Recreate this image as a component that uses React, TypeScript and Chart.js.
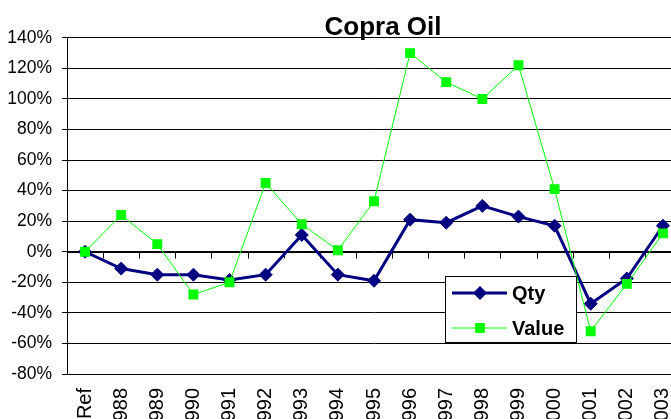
import React, { useEffect, useRef } from "react";
import { Chart, registerables } from "chart.js";

Chart.register(...registerables);

const categories = ["Ref", "1988", "1989", "1990", "1991", "1992", "1993", "1994", "1995", "1996", "1997", "1998", "1999", "2000", "2001", "2002", "2003"];
const qtyValues = [0, -11, -15, -15, -18.5, -15, 11, -15, -19, 21, 19, 30, 23, 17, -34, -17.5, 17];
const valueValues = [0, 24, 5, -28, -20, 45, 18, 1, 33, 130, 111, 100, 122, 41, -52, -21, 12];
const yTickMin = -80;
const yTickMax = 140;
const yTickStep = 20;

const FONT = "'Liberation Sans', Arial, sans-serif";
const NAVY = "#000080";
const LIME = "#00FF00";

const W = 766;
const H = 440;

const zeroTicksPlugin = {
  id: "zeroTicks",
  beforeDatasetsDraw(chart: any) {
    const { ctx, scales } = chart;
    const x = scales.x;
    const y = scales.y;
    const y0 = Math.round(y.getPixelForValue(0)) + 0.5;
    ctx.save();
    ctx.strokeStyle = "#000";
    ctx.lineWidth = 1;
    ctx.beginPath();
    ctx.moveTo(chart.chartArea.left, y0);
    ctx.lineTo(chart.chartArea.right, y0);
    const n = x.ticks.length;
    for (let i = 0; i < n - 1; i++) {
      const bx = Math.round((x.getPixelForTick(i) + x.getPixelForTick(i + 1)) / 2) + 0.5;
      ctx.moveTo(bx, y0);
      ctx.lineTo(bx, y0 + 6);
    }
    ctx.stroke();
    ctx.restore();
  },
};

function drawDiamond(ctx: CanvasRenderingContext2D, cx: number, cy: number, r: number) {
  ctx.beginPath();
  ctx.moveTo(cx, cy - r);
  ctx.lineTo(cx + r, cy);
  ctx.lineTo(cx, cy + r);
  ctx.lineTo(cx - r, cy);
  ctx.closePath();
  ctx.fill();
}

const legendPlugin = {
  id: "customLegend",
  afterDraw(chart: any) {
    const { ctx } = chart;
    const bx = 445.5, by = 276.5, bw = 131, bh = 66;
    ctx.save();
    ctx.fillStyle = "#fff";
    ctx.fillRect(bx, by, bw, bh);
    ctx.strokeStyle = "#000";
    ctx.lineWidth = 1;
    ctx.strokeRect(bx, by, bw, bh);

    const ds = chart.data.datasets;
    const rows = [
      { d: ds[1], y: 293 },
      { d: ds[0], y: 328 },
    ];
    rows.forEach(({ d, y }) => {
      ctx.strokeStyle = d.borderColor;
      ctx.lineWidth = d.borderWidth;
      ctx.beginPath();
      ctx.moveTo(452, y);
      ctx.lineTo(507, y);
      ctx.stroke();
      ctx.fillStyle = d.pointBackgroundColor;
      if (d.pointStyle === "rectRot") {
        drawDiamond(ctx, 480, y, d.pointRadius + 0.5);
      } else {
        const s = d.pointRadius * Math.SQRT1_2;
        ctx.fillRect(480 - s, y - s, 2 * s, 2 * s);
      }
      ctx.fillStyle = "#000";
      ctx.font = `bold 20px ${FONT}`;
      ctx.textBaseline = "middle";
      ctx.textAlign = "left";
      ctx.fillText(d.label, 512, y + 1);
    });
    ctx.restore();
  },
};

export default function App() {
  const ref = useRef<HTMLCanvasElement>(null);
  useEffect(() => {
    if (!ref.current) return;
    const chart = new Chart(ref.current, {
      type: "line",
      data: {
        labels: categories,
        datasets: [
          {
            label: "Value",
            data: valueValues,
            borderColor: LIME,
            backgroundColor: LIME,
            borderWidth: 1,
            pointStyle: "rect",
            pointRadius: 7,
            pointBackgroundColor: LIME,
            pointBorderColor: LIME,
            pointBorderWidth: 0,
            tension: 0,
            order: 1,
          },
          {
            label: "Qty",
            data: qtyValues,
            borderColor: NAVY,
            backgroundColor: NAVY,
            borderWidth: 3,
            pointStyle: "rectRot",
            pointRadius: 6.5,
            pointBackgroundColor: NAVY,
            pointBorderColor: NAVY,
            pointBorderWidth: 1,
            tension: 0,
            order: 2,
          },
        ],
      },
      options: {
        responsive: false,
        animation: false,
        devicePixelRatio: 1,
        layout: { padding: 0 },
        plugins: {
          legend: { display: false },
          tooltip: { enabled: false },
          title: {
            display: true,
            text: "Copra Oil",
            color: "#000",
            font: { family: FONT, size: 26, weight: "bold", lineHeight: 0.8 },
            padding: { top: 17, bottom: 0 },
          },
        },
        scales: {
          x: {
            type: "category",
            offset: true,
            grid: { display: false, drawTicks: false },
            border: { display: true, color: "#000", width: 1 },
            ticks: {
              color: "#000",
              font: { family: FONT, size: 20 },
              minRotation: 90,
              maxRotation: 90,
              autoSkip: false,
              padding: 14,
            },
            afterFit: (s: any) => {
              s.height = H - 374;
            },
          },
          y: {
            type: "linear",
            position: "left",
            min: yTickMin,
            max: yTickMax,
            ticks: {
              stepSize: yTickStep,
              color: "#000",
              font: { family: FONT, size: 17.5 },
              padding: 10,
              callback: (v: any) => `${v}%`,
            },
            grid: { color: "#000", lineWidth: 1, drawTicks: true, tickLength: 5, tickColor: "#000" },
            border: { display: true, color: "#000", width: 1 },
            afterFit: (s: any) => {
              s.width = 67;
            },
          },
          yR: {
            type: "linear",
            position: "right",
            display: true,
            grid: { display: false, drawTicks: false },
            border: { display: false },
            ticks: { display: false },
            afterFit: (s: any) => {
              s.width = 85;
            },
          },
        },
      },
      plugins: [zeroTicksPlugin, legendPlugin],
    });
    return () => chart.destroy();
  }, []);

  return (
    <div style={{ position: "fixed", left: 0, top: 0, width: 671, height: 419, overflow: "hidden", background: "#fff" }}>
      <canvas ref={ref} width={W} height={H} style={{ display: "block", width: W, height: H }} />
    </div>
  );
}
